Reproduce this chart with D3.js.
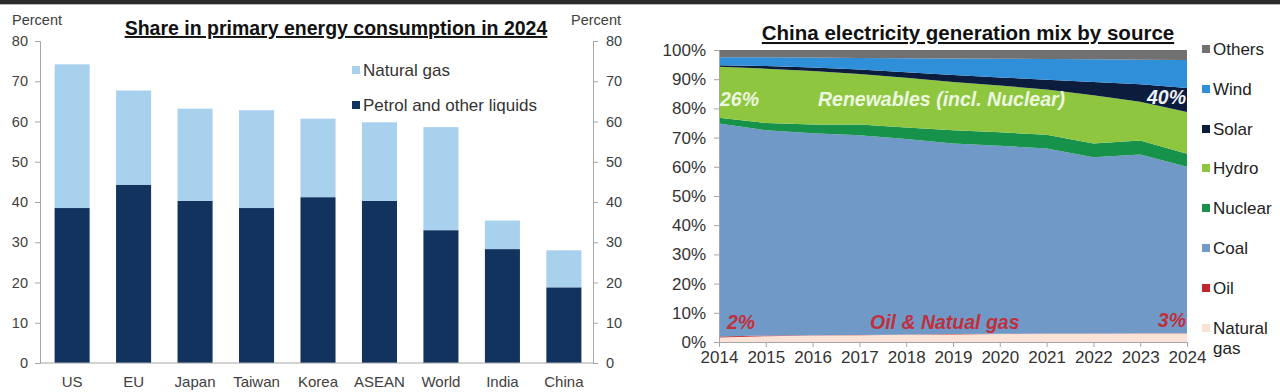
<!DOCTYPE html>
<html><head><meta charset="utf-8">
<script src="https://cdn.jsdelivr.net/npm/d3@7"></script>
<style>
body{margin:0;background:#fff;}
svg{display:block;font-family:"Liberation Sans",Arial,sans-serif;}
</style></head>
<body><svg id="c" width="1280" height="392"></svg>
<script>
// ---- Left chart data ----
const categories = ["US","EU","Japan","Taiwan","Korea","ASEAN","World","India","China"];
const petrol = [38.5,44.3,40.3,38.5,41.2,40.3,33.0,28.3,18.8];
const natgas = [35.7,23.4,22.9,24.3,19.5,19.5,25.6,7.1,9.2];
const leftTicks = [0,10,20,30,40,50,60,70,80];

// ---- Right chart data (share of generation, %) ----
const years = [2014,2015,2016,2017,2018,2019,2020,2021,2022,2023,2024];
const gasGen   = [1.5,2.0,2.2,2.3,2.5,2.6,2.7,2.8,2.8,2.9,2.9];
const oilGen   = [0.4,0.2,0.15,0.1,0.1,0.1,0.1,0.1,0.1,0.1,0.1];
const coalGen  = [72.9,70.3,69.15,68.4,66.9,65.3,64.4,63.4,60.4,61.2,57.0];
const nuclearGen = [2.0,2.5,3.0,3.7,4.0,4.5,4.6,4.7,4.7,4.8,4.5];
const hydroGen = [17.5,18.6,18.3,17.3,17.0,16.5,16.0,15.5,16.5,13.3,14.3];
const solarGen = [0.5,0.9,1.2,1.5,1.9,2.4,2.8,3.3,4.5,6.0,8.2];
const windGen  = [2.7,3.0,3.4,4.0,4.8,5.7,6.4,7.1,7.8,8.4,9.6];
const othersGen = [2.5,2.5,2.6,2.7,2.8,2.9,3.0,3.1,3.2,3.3,3.4];
const rightTicks = [0,10,20,30,40,50,60,70,80,90,100];

const svg = d3.select("#c");

// top dark band
svg.append("rect").attr("x",0).attr("y",0).attr("width",1280).attr("height",4).attr("fill","#2b2b2b");
svg.append("rect").attr("x",0).attr("y",4).attr("width",1280).attr("height",1).attr("fill","#bbb");

// ================= LEFT CHART =================
const L = svg.append("g");
const x = d3.scaleBand().domain(categories).range([38,598]).paddingInner(0.43).paddingOuter(0.27);
const y = d3.scaleLinear().domain([0,80]).range([363,41]);

const barRows = categories.map((c,i)=>({cat:c, petrol:petrol[i], gas:natgas[i]}));
const barStack = d3.stack().keys(["petrol","gas"])(barRows);
const barColors = {petrol:"#12335e", gas:"#a8d1ee"};

L.selectAll("g.s").data(barStack).join("g").attr("fill",d=>barColors[d.key])
 .selectAll("rect").data(d=>d).join("rect")
 .attr("x",d=>x(d.data.cat)).attr("width",x.bandwidth())
 .attr("y",d=>y(d[1])).attr("height",d=>y(d[0])-y(d[1]));

// axes
const axL = d3.axisLeft(y).tickValues(leftTicks).tickSize(5).tickPadding(7);
const gL = L.append("g").attr("transform","translate(40,0)").call(axL);
const axR = d3.axisRight(y).tickValues(leftTicks).tickSize(5).tickPadding(8);
const gR = L.append("g").attr("transform","translate(593,0)").call(axR);
[gL,gR].forEach(g=>{
  g.select(".domain").attr("stroke","#a6a6a6");
  g.selectAll(".tick line").attr("stroke","#a6a6a6");
  g.selectAll(".tick text").attr("fill","#404040").style("font-size","14.5px").style("font-family","Liberation Sans, Arial");
});
L.append("line").attr("x1",40).attr("x2",593).attr("y1",363).attr("y2",363).attr("stroke","#a6a6a6");
L.selectAll("text.cat").data(categories).join("text").attr("class","cat")
 .attr("x",d=>x(d)+x.bandwidth()/2).attr("y",387).attr("text-anchor","middle")
 .attr("fill","#404040").style("font-size","15px").text(d=>d);

L.append("text").attr("x",12).attr("y",25).attr("fill","#404040").style("font-size","14.5px").text("Percent");
L.append("text").attr("x",571).attr("y",25).attr("fill","#404040").style("font-size","14.5px").text("Percent");
L.append("text").attr("x",336).attr("y",35).attr("text-anchor","middle").attr("fill","#111")
 .style("font-size","19.5px").style("font-weight","bold").style("text-decoration","underline")
 .text("Share in primary energy consumption in 2024");

// legend
const legL = [["Natural gas","gas",70],["Petrol and other liquids","petrol",105]];
legL.forEach(([t,k,yy])=>{
  L.append("rect").attr("x",352).attr("y",yy-4).attr("width",8).attr("height",8).attr("fill",barColors[k]);
  L.append("text").attr("x",363).attr("y",yy+6).attr("fill","#333").style("font-size","17px").text(t);
});

// ================= RIGHT CHART =================
const R = svg.append("g");
const xr = d3.scaleLinear().domain([2014,2024]).range([719,1187]);
const yr = d3.scaleLinear().domain([0,100]).range([342,50]);

const keys = ["gas","oil","coal","nuclear","hydro","solar","wind","others"];
const srcArr = {gas:gasGen,oil:oilGen,coal:coalGen,nuclear:nuclearGen,hydro:hydroGen,solar:solarGen,wind:windGen,others:othersGen};
const rows = years.map((yy,i)=>{const o={year:yy}; keys.forEach(k=>o[k]=srcArr[k][i]); return o;});
const stack = d3.stack().keys(keys)(rows);
const colors = {others:"#717171",wind:"#2f8fd9",solar:"#0b1c3c",hydro:"#8ec640",nuclear:"#17924a",coal:"#7099c8",oil:"#c0272d",gas:"#fbe2d6"};
const area = d3.area().x(d=>xr(d.data.year)).y0(d=>yr(d[0])).y1(d=>yr(d[1]));
R.selectAll("path.a").data(stack).join("path").attr("class","a")
 .attr("fill",d=>colors[d.key]).attr("d",area);

const axY = d3.axisLeft(yr).tickValues(rightTicks).tickFormat(d=>d+"%").tickSize(5).tickPadding(8);
const gY = R.append("g").attr("transform","translate(719,0)").call(axY);
const axX = d3.axisBottom(xr).tickValues(years).tickFormat(d3.format("d")).tickSize(5).tickPadding(4);
const gX = R.append("g").attr("transform","translate(0,342)").call(axX);
[gY,gX].forEach(g=>{
  g.select(".domain").attr("stroke","#a6a6a6");
  g.selectAll(".tick line").attr("stroke","#a6a6a6");
  g.selectAll(".tick text").attr("fill","#333").style("font-size","17px").style("font-family","Liberation Sans, Arial");
});

R.append("text").attr("x",968).attr("y",40).attr("text-anchor","middle").attr("fill","#111")
 .style("font-size","20.5px").style("font-weight","bold").style("text-decoration","underline")
 .text("China electricity generation mix by source");

// annotations
const ann = R.append("g").style("font-style","italic").style("font-weight","bold").style("font-size","19.5px");
ann.append("text").attr("x",720).attr("y",106).attr("fill","#eef7e0").text("26%");
ann.append("text").attr("x",818).attr("y",106).attr("fill","#eef7e0").text("Renewables (incl.  Nuclear)");
ann.append("text").attr("x",1186).attr("y",104).attr("text-anchor","end").attr("fill","#eef2f8").text("40%");
ann.append("text").attr("x",727).attr("y",329).attr("fill","#c0303b").text("2%");
ann.append("text").attr("x",870).attr("y",329).attr("fill","#c0303b").text("Oil & Natual gas");
ann.append("text").attr("x",1186).attr("y",327).attr("text-anchor","end").attr("fill","#c0303b").text("3%");

// legend
const legR = [["Others","others",49],["Wind","wind",89],["Solar","solar",129],["Hydro","hydro",168],["Nuclear","nuclear",208],["Coal","coal",248],["Oil","oil",288]];
legR.forEach(([t,k,yy])=>{
  R.append("rect").attr("x",1202).attr("y",yy-4).attr("width",8).attr("height",8).attr("fill",colors[k]);
  R.append("text").attr("x",1213).attr("y",yy+6).attr("fill","#222").style("font-size","17px").text(t);
});
R.append("rect").attr("x",1202).attr("y",324).attr("width",8).attr("height",8).attr("fill",colors.gas);
R.append("text").attr("x",1213).attr("y",334).attr("fill","#222").style("font-size","17px").text("Natural");
R.append("text").attr("x",1213).attr("y",354).attr("fill","#222").style("font-size","17px").text("gas");
</script></body></html>
